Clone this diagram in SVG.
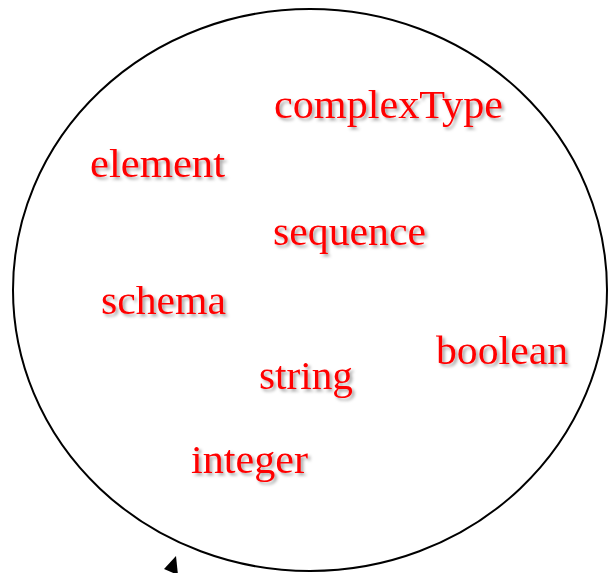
<svg xmlns="http://www.w3.org/2000/svg" width="608" height="573" viewBox="0 0 608 573">
  <style>
    .lbl { font-family: "Liberation Serif", "Times New Roman", serif; font-size: 40px; fill: #ff0000; filter: url(#shadow); }
  </style>
  <defs>
    <filter id="shadow" x="-10%" y="-30%" width="130%" height="170%">
      <feDropShadow dx="2.5" dy="2.5" stdDeviation="1.5" flood-color="#000000" flood-opacity="0.35"/>
    </filter>
  </defs>
  <rect width="608" height="573" fill="#ffffff"/>
  <g id="boundary">
    <ellipse cx="310" cy="290" rx="297" ry="281" fill="none" stroke="#000000" stroke-width="2"/>
  </g>
  <g id="connectors">
    <polygon points="176,556 164,569 178,575" fill="#000000"/>
  </g>
  <g id="node-complexType"><text class="lbl" x="274" y="118" textLength="229" lengthAdjust="spacingAndGlyphs">complexType</text></g>
  <g id="node-element"><text class="lbl" x="90" y="177" textLength="135" lengthAdjust="spacingAndGlyphs">element</text></g>
  <g id="node-sequence"><text class="lbl" x="273" y="245" textLength="153" lengthAdjust="spacingAndGlyphs">sequence</text></g>
  <g id="node-schema"><text class="lbl" x="101" y="314" textLength="125" lengthAdjust="spacingAndGlyphs">schema</text></g>
  <g id="node-boolean"><text class="lbl" x="436" y="364" textLength="132" lengthAdjust="spacingAndGlyphs">boolean</text></g>
  <g id="node-string"><text class="lbl" x="259" y="389" textLength="94" lengthAdjust="spacingAndGlyphs">string</text></g>
  <g id="node-integer"><text class="lbl" x="191" y="473" textLength="117" lengthAdjust="spacingAndGlyphs">integer</text></g>
</svg>
